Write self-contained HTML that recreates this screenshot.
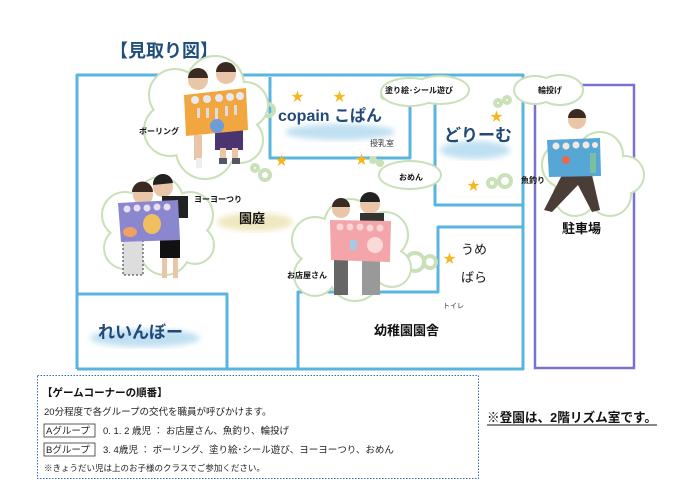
<!DOCTYPE html>
<html><head><meta charset="utf-8"><style>
html,body{margin:0;padding:0;background:#fff;}
svg{display:block;}
text{font-family:"Liberation Sans","Noto Sans CJK JP",sans-serif;}
</style></head><body>
<svg width="700" height="495" viewBox="0 0 700 495" xmlns="http://www.w3.org/2000/svg">
<defs>
<filter id="blur"><feGaussianBlur stdDeviation="3"/></filter>
</defs>
<rect width="700" height="495" fill="#fff"/>
<text x="110" y="57" font-size="18" font-weight="bold" fill="#1f4f7a">【見取り図】</text>

<!-- walls -->
<g fill="none" stroke="#5ab4e0" stroke-width="3" stroke-linejoin="round">
<polyline points="77,369 77,75 523,75 523,369 77,369"/>
<polyline points="270,77 270,158 410,158 410,77"/>
<polyline points="435,77 435,205 523,205"/>
<polyline points="523,227 438,227 438,292 298,292 298,369"/>
<polyline points="77,294 227,294 227,369"/>
</g>
<rect x="535" y="85" width="99" height="283" fill="none" stroke="#7a72d0" stroke-width="2.5"/>

<!-- brush strokes -->
<ellipse cx="340" cy="132" rx="55" ry="8" fill="#bfe0f2" filter="url(#blur)"/>
<ellipse cx="475" cy="150" rx="35" ry="9" fill="#bfe0f2" filter="url(#blur)"/>
<ellipse cx="145" cy="338" rx="55" ry="9" fill="#bfe0f2" filter="url(#blur)"/>
<ellipse cx="255" cy="222" rx="38" ry="9" fill="#efe8c0" filter="url(#blur)"/>

<!-- clouds: outline pass -->
<g fill="none" stroke="#c9e0b9" stroke-width="4">
<circle cx="175" cy="95" r="25"/><circle cx="215" cy="85" r="28"/><circle cx="245" cy="105" r="22"/><circle cx="170" cy="130" r="25"/><circle cx="240" cy="140" r="22"/><circle cx="205" cy="150" r="28"/>
<circle cx="125" cy="215" r="22"/><circle cx="160" cy="200" r="22"/><circle cx="190" cy="215" r="22"/><circle cx="125" cy="248" r="20"/><circle cx="165" cy="250" r="24"/><circle cx="195" cy="245" r="18"/>
<circle cx="315" cy="240" r="22"/><circle cx="350" cy="225" r="25"/><circle cx="385" cy="235" r="22"/><circle cx="315" cy="275" r="20"/><circle cx="355" cy="275" r="25"/><circle cx="392" cy="268" r="18"/>
<circle cx="565" cy="165" r="22"/><circle cx="600" cy="155" r="22"/><circle cx="625" cy="175" r="18"/><circle cx="575" cy="195" r="20"/><circle cx="610" cy="195" r="20"/>
<ellipse cx="410" cy="92" rx="28" ry="13"/><ellipse cx="440" cy="90" rx="28" ry="13"/>
<ellipse cx="535" cy="90" rx="20" ry="13"/><ellipse cx="560" cy="90" rx="22" ry="14"/>
<ellipse cx="410" cy="175" rx="30" ry="13"/>
<circle cx="268" cy="110" r="6"/><circle cx="258" cy="100" r="4"/>
<circle cx="265" cy="175" r="5"/><circle cx="255" cy="168" r="3"/>
<circle cx="392" cy="94" r="3"/><circle cx="384" cy="96" r="2"/>
<circle cx="498" cy="103" r="3"/><circle cx="507" cy="100" r="3"/>
<circle cx="415" cy="262" r="9"/><circle cx="430" cy="262" r="6"/>
<circle cx="492" cy="183" r="4"/><circle cx="505" cy="181" r="6"/>
<circle cx="380" cy="163" r="2"/><circle cx="373" cy="160" r="2"/>
</g>
<g fill="#fff">
<circle cx="175" cy="95" r="25"/><circle cx="215" cy="85" r="28"/><circle cx="245" cy="105" r="22"/><circle cx="170" cy="130" r="25"/><circle cx="240" cy="140" r="22"/><circle cx="205" cy="150" r="28"/><rect x="175" y="95" width="65" height="50"/>
<circle cx="125" cy="215" r="22"/><circle cx="160" cy="200" r="22"/><circle cx="190" cy="215" r="22"/><circle cx="125" cy="248" r="20"/><circle cx="165" cy="250" r="24"/><circle cx="195" cy="245" r="18"/><rect x="125" y="210" width="70" height="40"/>
<circle cx="315" cy="240" r="22"/><circle cx="350" cy="225" r="25"/><circle cx="385" cy="235" r="22"/><circle cx="315" cy="275" r="20"/><circle cx="355" cy="275" r="25"/><circle cx="392" cy="268" r="18"/><rect x="315" y="235" width="75" height="40"/>
<circle cx="565" cy="165" r="22"/><circle cx="600" cy="155" r="22"/><circle cx="625" cy="175" r="18"/><circle cx="575" cy="195" r="20"/><circle cx="610" cy="195" r="20"/><rect x="565" y="165" width="50" height="30"/>
<ellipse cx="410" cy="92" rx="28" ry="13"/><ellipse cx="440" cy="90" rx="28" ry="13"/>
<ellipse cx="535" cy="90" rx="20" ry="13"/><ellipse cx="560" cy="90" rx="22" ry="14"/>
<ellipse cx="410" cy="175" rx="30" ry="13"/>
</g>

<!-- kids: bowling -->
<g>
<circle cx="198" cy="80" r="10" fill="#e9c6a8"/><path d="M188,78 a10,10 0 0 1 20,0 z" fill="#3b2a22"/>
<circle cx="226" cy="74" r="10" fill="#e9c6a8"/><path d="M216,72 a10,10 0 0 1 20,0 z" fill="#3b2a22"/>
<rect x="215" y="130" width="28" height="20" fill="#4a3570"/>
<rect x="194" y="135" width="8" height="25" fill="#e9c6a8"/><rect x="220" y="148" width="6" height="12" fill="#e9c6a8"/><rect x="232" y="148" width="6" height="12" fill="#e9c6a8"/>
<rect x="196" y="158" width="6" height="10" fill="#eee"/><rect x="219" y="158" width="8" height="6" fill="#556"/><rect x="232" y="158" width="8" height="6" fill="#556"/>
<polygon points="184,95 246,88 248,130 186,136" fill="#f2a640"/>
<g fill="#e8e8f0"><circle cx="195" cy="100" r="4"/><circle cx="207" cy="99" r="4"/><circle cx="219" cy="98" r="4"/><circle cx="230" cy="97" r="4"/><circle cx="240" cy="96" r="4"/></g>
<g fill="#ddd"><rect x="197" y="108" width="3" height="10"/><rect x="206" y="108" width="3" height="10"/><rect x="215" y="108" width="3" height="12"/><rect x="225" y="106" width="3" height="10"/><rect x="234" y="105" width="3" height="10"/></g>
<circle cx="217" cy="126" r="7" fill="#6f9bd8"/>
</g>
<!-- yoyo kids -->
<g>
<circle cx="143" cy="195" r="10" fill="#e9c6a8"/><path d="M132,192 a10,10 0 0 1 21,0 z" fill="#3b2a22"/>
<circle cx="163" cy="187" r="10" fill="#e9c6a8"/><path d="M153,185 a10,10 0 0 1 20,-2 z" fill="#222"/>
<rect x="162" y="196" width="26" height="22" fill="#222"/>
<rect x="123" y="240" width="20" height="35" fill="#ddd" stroke="#333" stroke-dasharray="2,2"/>
<rect x="160" y="240" width="20" height="18" fill="#111"/><rect x="162" y="258" width="5" height="20" fill="#e9c6a8"/><rect x="173" y="258" width="5" height="20" fill="#e9c6a8"/>
<polygon points="118,203 178,200 180,240 121,242" fill="#8a87cf"/>
<g fill="#e8e0f0"><circle cx="127" cy="209" r="3.5"/><circle cx="137" cy="208" r="3.5"/><circle cx="147" cy="208" r="3.5"/><circle cx="157" cy="207" r="3.5"/><circle cx="167" cy="207" r="3.5"/></g>
<ellipse cx="152" cy="224" rx="9" ry="10" fill="#f0c060"/><ellipse cx="130" cy="232" rx="7" ry="5" fill="#f0a060"/>
</g>
<!-- shop kids -->
<g>
<circle cx="341" cy="209" r="9" fill="#e9c6a8"/><path d="M332,207 a9,9 0 0 1 18,0 z" fill="#3b2a22"/>
<circle cx="370" cy="204" r="10" fill="#e9c6a8"/><path d="M360,202 a10,10 0 0 1 20,0 z" fill="#222"/>
<rect x="360" y="213" width="24" height="12" fill="#333"/>
<rect x="334" y="260" width="14" height="35" fill="#666"/><rect x="362" y="260" width="18" height="35" fill="#999"/>
<polygon points="330,220 391,221 390,262 331,260" fill="#f4a5aa"/>
<g fill="#fbd5d5"><circle cx="340" cy="227" r="3.5"/><circle cx="350" cy="227" r="3.5"/><circle cx="360" cy="227" r="3.5"/><circle cx="370" cy="228" r="3.5"/><circle cx="380" cy="228" r="3.5"/></g>
<circle cx="375" cy="245" r="8" fill="#fbd9d9"/><rect x="350" y="240" width="7" height="10" fill="#a8c8e8"/>
</g>
<!-- fish kid -->
<g>
<circle cx="577" cy="120" r="9" fill="#e9c6a8"/><path d="M568,118 a9,9 0 0 1 18,0 z" fill="#3b2a22"/>
<polygon points="562,175 592,175 600,210 592,212 578,185 552,212 544,210" fill="#4a3c36"/>
<polygon points="547,140 600,138 601,176 549,177" fill="#56a7d6"/>
<g fill="#f4e8e0"><circle cx="556" cy="146" r="3.5"/><circle cx="566" cy="146" r="3.5"/><circle cx="576" cy="145" r="3.5"/><circle cx="586" cy="145" r="3.5"/><circle cx="595" cy="145" r="3"/></g>
<rect x="590" y="153" width="6" height="20" fill="#7ac0a0"/><circle cx="566" cy="160" r="4" fill="#e86a4a"/>
</g>

<!-- stars -->
<g fill="#f5b820" font-size="13">
<text x="291" y="101">★</text><text x="333" y="101">★</text><text x="275" y="165">★</text><text x="355" y="164">★</text>
<text x="490" y="121">★</text><text x="467" y="190">★</text><text x="443" y="263">★</text>
</g>

<!-- labels -->
<g fill="#111" font-weight="bold">
<text x="139" y="134" font-size="8">ボーリング</text>
<text x="194" y="202" font-size="8">ヨーヨーつり</text>
<text x="287" y="278" font-size="8">お店屋さん</text>
<text x="385" y="93" font-size="8">塗り絵･シール遊び</text>
<text x="538" y="93" font-size="8">輪投げ</text>
<text x="399" y="180" font-size="8">おめん</text>
<text x="521" y="183" font-size="8">魚釣り</text>
<text x="239" y="223" font-size="13">園庭</text>
<text x="374" y="335" font-size="13">幼稚園園舎</text>
<text x="562" y="233" font-size="13">駐車場</text>
</g>
<text x="278" y="121" font-size="16" fill="#214a78" font-weight="bold">copain こぱん</text>
<text x="444" y="141" font-size="17" fill="#214a78" font-weight="bold">どりーむ</text>
<text x="98" y="338" font-size="17" fill="#214a78" font-weight="bold">れいんぼー</text>
<text x="370" y="146" font-size="8" fill="#333">授乳室</text>
<text x="443" y="308" font-size="7" fill="#333">トイレ</text>
<text x="461" y="254" font-size="13" fill="#111">うめ</text>
<text x="461" y="282" font-size="13" fill="#111">ばら</text>

<!-- bottom box -->
<rect x="37.5" y="375.5" width="441" height="103" fill="none" stroke="#3a6fb0" stroke-width="1" stroke-dasharray="1.5,1.5"/>
<text x="42" y="396" font-size="10.5" fill="#111" font-weight="bold">【ゲームコーナーの順番】</text>
<text x="44" y="415" font-size="9.5" fill="#222">20分程度で各グループの交代を職員が呼びかけます。</text>
<rect x="44" y="424" width="51" height="13" fill="none" stroke="#333" stroke-width="0.8"/>
<text x="46" y="434" font-size="9.5" fill="#222">Aグループ</text>
<text x="103" y="434" font-size="9.5" fill="#222">0. 1. 2 歳児 ： お店屋さん、魚釣り、輪投げ</text>
<rect x="44" y="443" width="51" height="13" fill="none" stroke="#333" stroke-width="0.8"/>
<text x="46" y="453" font-size="9.5" fill="#222">Bグループ</text>
<text x="103" y="453" font-size="9.5" fill="#222">3. 4歳児 ： ボーリング、塗り絵･シール遊び、ヨーヨーつり、おめん</text>
<text x="44" y="471" font-size="8.5" fill="#222">※きょうだい児は上のお子様のクラスでご参加ください。</text>
<text x="487" y="422" font-size="13" fill="#111" font-weight="bold" textLength="170" lengthAdjust="spacingAndGlyphs">※登園は、2階リズム室です。</text>
<line x1="487" y1="425" x2="657" y2="425" stroke="#111" stroke-width="1"/>
</svg>
</body></html>
